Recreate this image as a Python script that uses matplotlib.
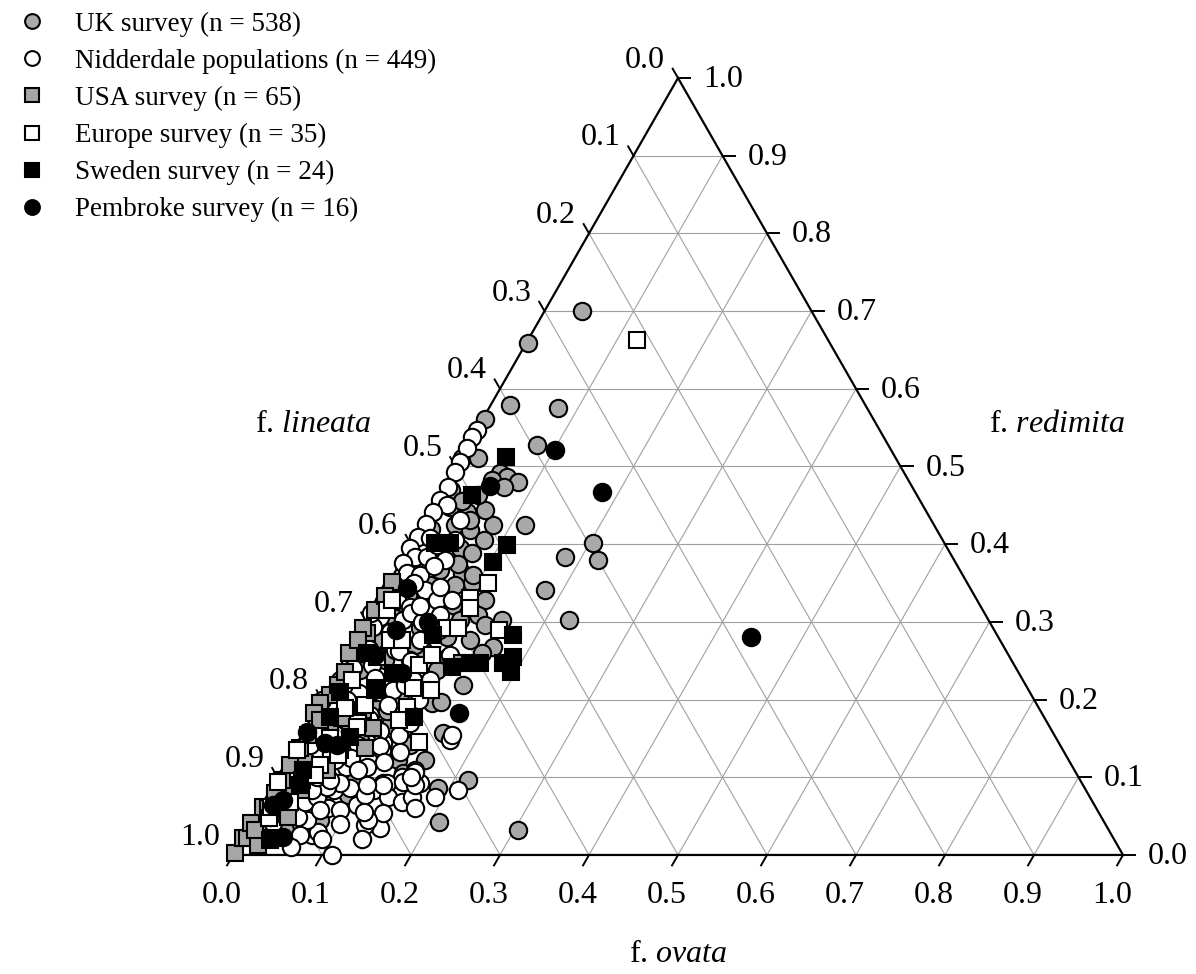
import numpy as np
import matplotlib.pyplot as plt

plt.rcParams['font.family'] = ['Liberation Serif', 'DejaVu Serif']
plt.rcParams['mathtext.fontset'] = 'custom'
plt.rcParams['mathtext.rm'] = 'Liberation Serif'
plt.rcParams['mathtext.it'] = 'Liberation Serif:italic'

# proportions of f. ovata and f. redimita in each sample (f. lineata = 1 - ovata - redimita)
uk_ovata = [0.042, 0.002, 0.022, 0.078, 0.003, 0.002, 0.020, 0.078, 0.054, 0.065, 0.050, 0.080, 0.067,
            0.080, 0.116, 0.203, 0.220, 0.181, 0.180, 0.227, 0.151, 0.158, 0.150, 0.149, 0.114, 0.086,
            0.076, 0.094, 0.126, 0.135, 0.157, 0.187, 0.216, 0.211, 0.304, 0.121, 0.019,
            0.020, 0.042, 0.037, 0.057, 0.058, 0.074, 0.061, 0.044, 0.051, 0.080, 0.049, 0.076, 0.119,
            0.121, 0.104, 0.128, 0.135, 0.026, 0.048, 0.029, 0.082, 0.110, 0.104, 0.088, 0.063, 0.093,
            0.128, 0.155, 0.124, 0.069, 0.041, 0.008, 0.024, 0.045, 0.021, 0.030, 0.064, 0.046, 0.075,
            0.042, 0.017, 0.091, 0.020, 0.004, 0.089, 0.138, 0.122, 0.010, 0.030,
            0.035, 0.012, 0.065, 0.090, 0.100, 0.070, 0.055, 0.080, 0.110, 0.035, 0.060]
uk_redimita = [0.700, 0.659, 0.579, 0.575, 0.561, 0.511, 0.511, 0.528, 0.492, 0.486, 0.483, 0.480, 0.474,
               0.425, 0.425, 0.402, 0.380, 0.384, 0.341, 0.302, 0.302, 0.268, 0.260, 0.219, 0.255, 0.322,
               0.363, 0.350, 0.196, 0.197, 0.157, 0.086, 0.097, 0.042, 0.032, 0.145, 0.022,
               0.448, 0.441, 0.425, 0.418, 0.395, 0.389, 0.444, 0.463, 0.431, 0.405, 0.367, 0.347, 0.328,
               0.309, 0.302, 0.277, 0.296, 0.380, 0.347, 0.335, 0.264, 0.238, 0.212, 0.199, 0.193, 0.167,
               0.142, 0.122, 0.122, 0.148, 0.180, 0.225, 0.238, 0.251, 0.277, 0.305, 0.292, 0.058, 0.045,
               0.032, 0.039, 0.077, 0.122, 0.097, 0.097, 0.106, 0.093, 0.470, 0.455,
               0.395, 0.420, 0.375, 0.360, 0.280, 0.270, 0.210, 0.185, 0.180, 0.065, 0.085]

nid_ovata = [0.001, 0.000, 0.001, 0.002, 0.003, 0.005, 0.004, 0.015, 0.004, 0.004, 0.003, 0.017, 0.047,
             0.001, 0.013, 0.026, 0.003, 0.014, 0.030, 0.006, 0.020, 0.006, 0.039, 0.012, 0.040, 0.011,
             0.033, 0.045, 0.000, 0.010, 0.045, 0.065, 0.072, 0.078,
             0.038, 0.060, 0.074, 0.084, 0.078, 0.110, 0.110, 0.114, 0.097, 0.150, 0.140, 0.127, 0.170,
             0.211, 0.100, 0.121, 0.116, 0.137, 0.156, 0.164, 0.164, 0.151, 0.144, 0.124, 0.148, 0.142,
             0.129, 0.076, 0.081, 0.111, 0.061, 0.077, 0.091, 0.107, 0.088, 0.110, 0.129, 0.080, 0.071,
             0.094, 0.049, 0.032, 0.031, 0.047, 0.057, 0.069, 0.071, 0.074, 0.062, 0.047, 0.030, 0.021,
             0.044, 0.061, 0.024, 0.017, 0.062, 0.039, 0.064, 0.070, 0.054, 0.169, 0.006, 0.034, 0.050,
             0.073, 0.109, 0.001, 0.016, 0.009, 0.026, 0.086, 0.115, 0.082, 0.048, 0.030, 0.039,
             0.020, 0.055, 0.062, 0.050, 0.028, 0.040, 0.060, 0.015, 0.045, 0.075, 0.090, 0.028, 0.065,
             0.085, 0.018, 0.045, 0.070, 0.095, 0.110, 0.085, 0.105, 0.160, 0.175, 0.190, 0.120, 0.100,
             0.090, 0.060, 0.135, 0.150]
nid_redimita = [0.547, 0.538, 0.524, 0.506, 0.493, 0.474, 0.457, 0.450, 0.441, 0.426, 0.409, 0.408, 0.405,
                0.395, 0.384, 0.384, 0.376, 0.363, 0.360, 0.341, 0.328, 0.324, 0.319, 0.306, 0.302, 0.293,
                0.287, 0.311, 0.311, 0.277, 0.341, 0.328, 0.277, 0.309,
                0.208, 0.210, 0.212, 0.219, 0.193, 0.199, 0.154, 0.170, 0.144, 0.109, 0.100, 0.093, 0.148,
                0.084, 0.135, 0.133, 0.084, 0.075, 0.068, 0.075, 0.093, 0.107, 0.094, 0.090, 0.035, 0.054,
                0.039, 0.026, 0.030, 0.000, 0.045, 0.060, 0.058, 0.064, 0.086, 0.077, 0.045, 0.113, 0.113,
                0.113, 0.049, 0.060, 0.073, 0.068, 0.075, 0.058, 0.084, 0.093, 0.088, 0.084, 0.086, 0.075,
                0.100, 0.097, 0.041, 0.049, 0.026, 0.174, 0.180, 0.142, 0.122, 0.154, 0.251, 0.245, 0.264,
                0.251, 0.225, 0.199, 0.142, 0.109, 0.199, 0.290, 0.257, 0.328, 0.380, 0.399, 0.431,
                0.265, 0.262, 0.300, 0.320, 0.350, 0.372, 0.345, 0.240, 0.228, 0.250, 0.225, 0.200, 0.175,
                0.160, 0.160, 0.130, 0.125, 0.140, 0.120, 0.110, 0.090, 0.090, 0.060, 0.075, 0.055, 0.040,
                0.020, 0.010, 0.020, 0.100]

usa_ovata = [0.001, 0.000, 0.005, 0.000, 0.003, 0.007, 0.037, 0.023, 0.051, 0.079, 0.029, 0.076, 0.006,
             0.000, 0.000, 0.008, 0.000, 0.003, 0.000, 0.002, 0.134, 0.022, 0.009, 0.009, 0.007, 0.006,
             0.006, 0.007, 0.011, 0.009, 0.008, 0.002, 0.004, 0.034, 0.053, 0.048, 0.032, 0.032, 0.034,
             0.053]
usa_redimita = [0.003, 0.022, 0.022, 0.041, 0.062, 0.080, 0.049, 0.086, 0.109, 0.138, 0.161, 0.163, 0.206,
                0.196, 0.183, 0.286, 0.260, 0.351, 0.292, 0.277, 0.247, 0.013, 0.032, 0.060, 0.097, 0.116,
                0.138, 0.154, 0.174, 0.219, 0.236, 0.315, 0.333, 0.084, 0.135, 0.167, 0.109, 0.019, 0.176,
                0.187]

eur_ovata = [0.122, 0.111, 0.101, 0.094, 0.107, 0.154, 0.095, 0.100, 0.137, 0.029, 0.003, 0.004, 0.034,
             0.056, 0.038, 0.051, 0.021, 0.054, 0.052, 0.057, 0.015, 0.086, 0.117, 0.040, 0.030, 0.016,
             0.031, 0.099, 0.034, 0.015, 0.107, 0.095, 0.054, 0.041, 0.012]
eur_redimita = [0.663, 0.350, 0.331, 0.292, 0.292, 0.290, 0.215, 0.190, 0.145, 0.097, 0.094, 0.135, 0.151,
                0.170, 0.277, 0.277, 0.225, 0.215, 0.193, 0.165, 0.315, 0.245, 0.212, 0.116, 0.068, 0.048,
                0.189, 0.174, 0.255, 0.328, 0.318, 0.257, 0.129, 0.103, 0.062]

swe_ovata = [0.051, 0.037, 0.026, 0.043, 0.108, 0.104, 0.173, 0.187, 0.194, 0.180, 0.143, 0.154, 0.125,
             0.083, 0.114, 0.021, 0.063, 0.020, 0.015, 0.024, 0.033, 0.053, 0.030, 0.056]
swe_redimita = [0.512, 0.463, 0.402, 0.402, 0.399, 0.377, 0.283, 0.255, 0.236, 0.247, 0.247, 0.247, 0.242,
                0.283, 0.178, 0.260, 0.234, 0.178, 0.210, 0.109, 0.022, 0.212, 0.090, 0.152]

pem_ovata = [0.101, 0.181, 0.051, 0.441, 0.162, 0.045, 0.013, 0.021, 0.031, 0.046, 0.004, 0.024, 0.069,
             0.038, 0.031, 0.073]
pem_redimita = [0.521, 0.467, 0.475, 0.281, 0.183, 0.023, 0.064, 0.071, 0.144, 0.142, 0.158, 0.344, 0.300,
                0.290, 0.257, 0.234]

series = [
    ("UK survey (n = 538)", uk_ovata, uk_redimita, 'o', '#a9a9a9'),
    ("Nidderdale populations (n = 449)", nid_ovata, nid_redimita, 'o', 'white'),
    ("USA survey (n = 65)", usa_ovata, usa_redimita, 's', '#a6a6a6'),
    ("Europe survey (n = 35)", eur_ovata, eur_redimita, 's', 'white'),
    ("Sweden survey (n = 24)", swe_ovata, swe_redimita, 's', 'black'),
    ("Pembroke survey (n = 16)", pem_ovata, pem_redimita, 'o', 'black'),
]

levels = np.round(np.arange(0, 1.01, 0.1), 1)
labels = ["%.1f" % v for v in levels]


def tern(o, r):
    # x along base, y = redimita height (axes limits make the triangle equilateral on the page)
    o = np.asarray(o, dtype=float)
    r = np.asarray(r, dtype=float)
    return o + r / 2, r


fig = plt.figure(figsize=(11.96, 9.74), dpi=100)
ax = fig.add_axes([0, 0, 1, 1])
ax.set_xlim(-0.2618, 1.0820)
ax.set_ylim(-0.1532, 1.1004)
ax.axis('off')

# grid
gc = '#a0a0a0'
for v in levels[1:-1]:
    ax.plot([v / 2, 1 - v / 2], [v, v], color=gc, lw=0.8, zorder=1)
    ax.plot([v, (1 + v) / 2], [0, 1 - v], color=gc, lw=0.8, zorder=1)
    ax.plot([(1 - v) / 2, 1 - v], [1 - v, 0], color=gc, lw=0.8, zorder=1)

# triangle
ax.plot([0, 1, 0.5, 0], [0, 0, 1, 0], color='black', lw=1.6, zorder=2, solid_joinstyle='miter')

fs = 23
for v, lab in zip(levels, labels):
    # ovata (bottom)
    ax.plot([v, v - 0.0067], [0, -0.0134], color='black', lw=1.4)
    ax.text(v - 0.0124, -0.052, lab, ha='center', va='center', fontsize=fs)
    # lineata (left)
    bx, by = (1 - v) / 2, 1 - v
    ax.plot([bx, bx - 0.006], [by, by + 0.012], color='black', lw=1.4)
    ax.text(bx - 0.037, by + 0.023, lab, ha='center', va='center', fontsize=fs)
    # redimita (right)
    rx, ry = 1 - v / 2, v
    ax.plot([rx, rx + 0.0135], [ry, ry], color='black', lw=1.4)
    ax.text(rx + 0.028, ry - 0.002, lab, ha='left', va='center', fontsize=fs)

ax.text(0.0898, 0.5534, r'f. $\mathit{lineata}$', ha='center', va='center', fontsize=fs)
ax.text(0.926, 0.5534, r'f. $\mathit{redimita}$', ha='center', va='center', fontsize=fs)
ax.text(0.5, -0.1287, r'f. $\mathit{ovata}$', ha='center', va='center', fontsize=fs)

for i, (name, o, r, m, fc) in enumerate(series):
    x, y = tern(o, r)
    ms = 12.5 if m == 'o' else 11.5
    ax.plot(x, y, ls='none', marker=m, ms=ms, mfc=fc, mec='black', mew=1.5,
            label=name, zorder=3 + i, clip_on=False)

ax.legend(loc='upper left', bbox_to_anchor=(0.0184, 0.988), frameon=False, fontsize=19.5,
          numpoints=1, markerscale=0.85, handlelength=0.77, handletextpad=1.19,
          labelspacing=0.44, borderpad=0, borderaxespad=0)

fig.savefig('out.png', dpi=100)
